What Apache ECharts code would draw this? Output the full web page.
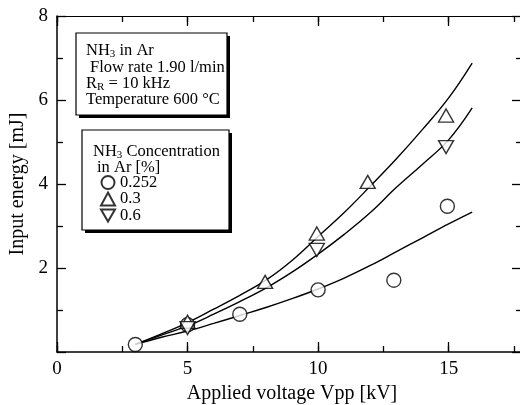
<!DOCTYPE html>
<html>
<head>
<meta charset="utf-8">
<script src="https://cdn.jsdelivr.net/npm/echarts@6/dist/echarts.min.js"></script>
<style>
html,body{margin:0;padding:0;background:#fff;}
#chart{width:520px;height:405px;}
</style>
</head>
<body>
<div id="chart"></div>
<script>
//数据
var fitX = [3, 4, 5, 6, 7, 8, 9, 10, 11, 12, 13, 14, 15, 15.9];
var fit0252 = [0.18, 0.35, 0.5, 0.68, 0.87, 1.06, 1.27, 1.5, 1.76, 2.06, 2.39, 2.72, 3.05, 3.33];
var fit03 = [0.18, 0.43, 0.7, 1.02, 1.35, 1.71, 2.18, 2.75, 3.32, 3.95, 4.6, 5.3, 6.05, 6.88];
var fit06 = [0.18, 0.4, 0.62, 0.9, 1.2, 1.52, 1.9, 2.33, 2.8, 3.32, 3.92, 4.47, 5.05, 5.81];

var ptsCircle = [[3, 0.18], [5, 0.65], [7, 0.9], [10, 1.48], [12.9, 1.71], [14.95, 3.47]];
var ptsUp = [[5, 0.72], [7.97, 1.67], [9.95, 2.82], [11.9, 4.05], [14.9, 5.63]];
var ptsDown = [[5, 0.57], [9.95, 2.43], [14.9, 4.88]];

var legendNames = ['0.252', '0.3', '0.6'];
var xTicksMajor = 5, xTicksMinor = 2.5;
var yTicks = 2;

var serif = 'Liberation Serif';
var downTri = 'path://M0,0 L12,0 L6,10.4 Z';

function pair(xs, ys) {
	var out = [];
	for (var i = 0; i < xs.length; i++) {
		out.push([xs[i], ys[i]]);
	}
	return out;
}

function xAx(pos, interval, len, labels, line) {
	return {
		type: 'value', position: pos, min: 0, max: 18, interval: interval,
		axisLine: {show: line, lineStyle: {color: '#000', width: pos == 'top' ? 1 : 1.5}},
		axisTick: {show: true, inside: true, length: len, lineStyle: {color: '#000', width: 1.3}},
		axisLabel: {
			show: labels, margin: 8, color: '#000', fontFamily: serif, fontSize: 19,
			formatter: function (v) { return v % 5 === 0 ? String(v) : ''; }
		},
		splitLine: {show: false}
	};
}

function richSub() {
	return {
		n: {fontFamily: serif, fontSize: 16.5, lineHeight: 18, fill: '#000', color: '#000'},
		s: {fontFamily: serif, fontSize: 11, lineHeight: 10, verticalAlign: 'bottom', fill: '#000', color: '#000'}
	};
}

var chart = echarts.init(document.getElementById('chart'), null, {renderer: 'canvas'});

var markStyle = {color: '#fff', borderColor: '#000', borderWidth: 1.4};
var lineStyle = {color: '#000', width: 1.4};

option = {
	animation: false,
	backgroundColor: '#fff',
	grid: {left: 57, top: 16, right: -7, bottom: 53, containLabel: false, outerBoundsMode: 'none'},
	xAxis: [
		Object.assign(xAx('bottom', xTicksMajor, 10, true, true), {
			name: 'Applied voltage Vpp [kV]', nameLocation: 'middle', nameGap: 31,
			nameTextStyle: {color: '#000', fontFamily: serif, fontSize: 20}
		}),
		xAx('bottom', xTicksMinor, 6, false, false),
		xAx('top', xTicksMajor, 10, false, true),
		xAx('top', xTicksMinor, 6, false, false)
	],
	yAxis: [
		{
			type: 'value', min: 0, max: 8, interval: yTicks, position: 'left',
			name: 'Input energy [mJ]', nameLocation: 'middle', nameGap: 26,
			nameTextStyle: {color: '#000', fontFamily: serif, fontSize: 20},
			axisLine: {show: true, lineStyle: {color: '#000', width: 1.5}},
			axisTick: {show: true, inside: true, length: 9, lineStyle: {color: '#000', width: 1.3}},
			minorTick: {show: true, splitNumber: 2, length: 6, lineStyle: {color: '#000', width: 1.3}},
			axisLabel: {color: '#000', fontFamily: serif, fontSize: 19, margin: 9, showMinLabel: false},
			splitLine: {show: false}
		},
		{
			//right frame ticks (frame itself sits just off the picture)
			type: 'value', min: 0, max: 8, interval: yTicks, position: 'left', offset: -464,
			axisLine: {show: false},
			axisTick: {show: true, inside: false, length: 9, lineStyle: {color: '#000', width: 1.3}},
			minorTick: {show: true, splitNumber: 2, length: 5, lineStyle: {color: '#000', width: 1.3}},
			axisLabel: {show: false},
			splitLine: {show: false}
		}
	],
	legend: {
		data: legendNames,
		orient: 'vertical',
		left: 95, top: 169, z: 20,
		itemWidth: 14, itemHeight: 13, itemGap: -0.5,
		textStyle: {color: '#000', fontFamily: serif, fontSize: 16.5}
	},
	graphic: [
		//box 1 with shadow
		{type: 'rect', shape: {x: 79, y: 36, width: 151, height: 82}, style: {fill: '#000'}, z: 10},
		{type: 'rect', shape: {x: 76, y: 33, width: 151, height: 82}, style: {fill: '#fff', stroke: '#000', lineWidth: 1.2}, z: 11},
		//box 2 with shadow
		{type: 'rect', shape: {x: 85, y: 133, width: 147, height: 100}, style: {fill: '#000'}, z: 10},
		{type: 'rect', shape: {x: 82, y: 130, width: 147, height: 100}, style: {fill: '#fff', stroke: '#000', lineWidth: 1.2}, z: 11},
		{type: 'text', left: 86, top: 42, z: 12, style: {text: '{n|NH}{s|3}{n| in Ar}', rich: richSub()}},
		{type: 'text', left: 90, top: 59, z: 12, style: {text: '{n|Flow rate 1.90 l/min}', rich: richSub()}},
		{type: 'text', left: 86, top: 75, z: 12, style: {text: '{n|R}{s|R}{n| = 10 kHz}', rich: richSub()}},
		{type: 'text', left: 86, top: 91, z: 12, style: {text: '{n|Temperature 600 °C}', rich: richSub()}},
		{type: 'text', left: 93, top: 143, z: 12, style: {text: '{n|NH}{s|3}{n| Concentration}', rich: richSub()}},
		{type: 'text', left: 97, top: 159, z: 12, style: {text: '{n|in Ar [%]}', rich: richSub()}}
	],
	series: [
		{name: 'fit 0.252', type: 'line', smooth: 0.4, showSymbol: false, data: pair(fitX, fit0252), lineStyle: lineStyle, z: 2},
		{name: 'fit 0.3', type: 'line', smooth: 0.4, showSymbol: false, data: pair(fitX, fit03), lineStyle: lineStyle, z: 2},
		{name: 'fit 0.6', type: 'line', smooth: 0.4, showSymbol: false, data: pair(fitX, fit06), lineStyle: lineStyle, z: 2},
		{name: legendNames[0], type: 'scatter', symbol: 'circle', symbolSize: 14, data: ptsCircle, itemStyle: markStyle, z: 3},
		{name: legendNames[1], type: 'scatter', symbol: 'triangle', symbolSize: [15, 13], data: ptsUp, itemStyle: markStyle, z: 4},
		{name: legendNames[2], type: 'scatter', symbol: downTri, symbolSize: [15, 13], data: ptsDown, itemStyle: markStyle, z: 4}
	]
};

chart.setOption(option, true);
</script>
</body>
</html>
